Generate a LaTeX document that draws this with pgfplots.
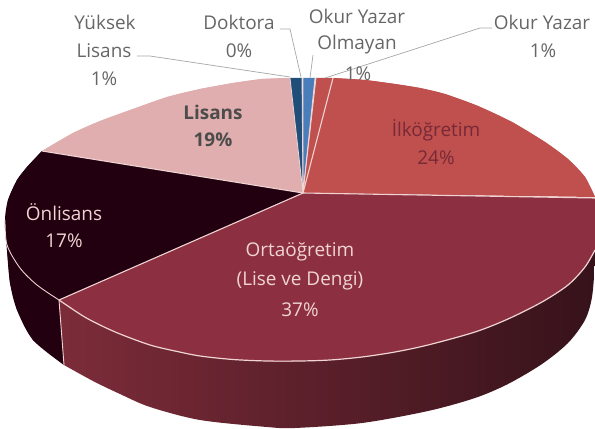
\documentclass[border=0pt]{standalone}
\usepackage{pgfplots}
\pgfplotsset{compat=1.18}
\usepackage{fontspec}
\setmainfont{Open Sans}
\definecolor{lis}{HTML}{E0AEAE}
\definecolor{onl}{HTML}{22000F}
\definecolor{ort}{HTML}{8C3041}
\definecolor{ilk}{HTML}{C0504D}
\definecolor{bl1}{HTML}{1F4E79}
\definecolor{bl2}{HTML}{4A7EBB}
\definecolor{edge}{HTML}{F0D4D4}
\definecolor{txt}{HTML}{666666}
\definecolor{lead}{HTML}{A6A6A6}
\definecolor{sideL}{HTML}{7C2C39}
\definecolor{sideR}{HTML}{36121A}
\tikzset{lab/.style={font=\fontsize{19}{22}\selectfont,text=txt,anchor=center,inner sep=0pt}}
\begin{document}
\begin{tikzpicture}
\begin{axis}[scale only axis,width=595bp,height=429bp,xmin=0,xmax=595,ymin=0,ymax=429,y dir=reverse,hide axis,clip=true]
% side walls
\addplot[fill=onl,draw=none] coordinates {(5,220)(7,245)(20,268)(37,285)(59,300)(64,365)(33,340)(17,310)(10,283)(7,250)} -- cycle;
\addplot[smooth,fill=onl,draw=none] coordinates {(64,365)(33,340)(17,310)(10,283)(7,250)(5,220)} -- cycle;
\addplot[smooth,draw=none,left color=sideL,right color=sideR] coordinates {(59,300)(83,316)(100,325)(120,334)(150,345)(200,356)(267,361)(300,361)(362,357)(428,345)(475,332)(508,319)(542,302)(568,285)(585,267)(595,250)(595,250)(595,262)(592,297)(585,320)(568,343)(542,364)(508,384)(475,398)(428,411)(362,423)(295,428)(267,427)(200,420)(150,407)(120,394)(93,381)(64,365)} -- cycle;
% top wedges: straight fan, then the sliver under the curved rim
\addplot[fill=lis,draw=none] coordinates {(303,193)(290,78)(262,79)(233,83)(200,89)(167,97)(133,109)(100,121)(73,133)(42,151)} -- cycle;
\addplot[smooth,fill=lis,draw=none] coordinates {(290,78)(262,79)(233,83)(200,89)(167,97)(133,109)(100,121)(73,133)(42,151)} -- cycle;
\addplot[fill=onl,draw=none] coordinates {(303,193)(42,151)(27,167)(17,180)(8,200)(5,220)(7,245)(20,268)(37,285)(59,300)} -- cycle;
\addplot[smooth,fill=onl,draw=none] coordinates {(42,151)(27,167)(17,180)(8,200)(5,220)(7,245)(20,268)(37,285)(59,300)} -- cycle;
\addplot[fill=ilk,draw=none] coordinates {(303,193)(316,78)(333,78)(365,80)(395,84)(420,88)(445,94)(478,106)(512,122)(545,142)(568,159)(585,177)(595,197)} -- cycle;
\addplot[smooth,fill=ilk,draw=none] coordinates {(333,78)(365,80)(395,84)(420,88)(445,94)(478,106)(512,122)(545,142)(568,159)(585,177)(595,197)} -- cycle;
\addplot[fill=bl2,draw=none] coordinates {(303,193)(303,78)(315,78)} -- cycle;
\addplot[fill=bl1,draw=none] coordinates {(303,193)(290,78)(302,78)} -- cycle;
\addplot[fill=ort,draw=none] coordinates {(303,193)(59,300)(83,316)(100,325)(120,334)(150,345)(175,351)(200,356)(233,359.5)(267,361)(300,361)(330,360)(362,357)(395,352)(428,345)(475,332)(508,319)(542,302)(568,285)(585,267)(595,250)(595,198)} -- cycle;
\addplot[smooth,fill=ort,draw=none] coordinates {(59,300)(83,316)(100,325)(120,334)(150,345)(175,351)(200,356)(233,359.5)(267,361)(300,361)(330,360)(362,357)(395,352)(428,345)(475,332)(508,319)(542,302)(568,285)(585,267)(595,250)} -- cycle;
% rims and spokes
\addplot[smooth,draw=edge,line width=1.2pt] coordinates {(59,300)(83,316)(100,325)(120,334)(150,345)(175,351)(200,356)(233,359.5)(267,361)(300,361)(330,360)(362,357)(395,352)(428,345)(475,332)(508,319)(542,302)(568,285)(585,267)(595,250)};
\addplot[smooth,draw=edge,line width=.9pt] coordinates {(5,220)(7,245)(20,268)(37,285)(59,300)};
\addplot[draw=edge,line width=1.1pt] coordinates {(42,151)(303,193)(595,198)};
\addplot[draw=edge,line width=1.1pt] coordinates {(59,300)(303,193)(333,78)};
\addplot[draw=edge,line width=.8pt] coordinates {(290,78)(303,193)(302,78)};
\addplot[draw=edge,line width=.8pt] coordinates {(303,78)(303,193)(315,78)};
\addplot[draw=edge,line width=.8pt] coordinates {(316,78)(303,193)};
\addplot[draw=edge,line width=.9pt] coordinates {(59,300)(64,365)};
% leaders
\addplot[draw=lead,line width=.7pt] coordinates {(137,56)(150,56)(290,77)};
\addplot[draw=lead,line width=.7pt] coordinates {(280,29)(290,29)(301,77)};
\addplot[draw=lead,line width=.7pt] coordinates {(313,55)(310,78)};
\addplot[draw=lead,line width=.7pt] coordinates {(492,28)(480,28)(325,78)};
% labels
\node[lab] at (axis cs:105,22) {Yüksek};
\node[lab] at (axis cs:104,51) {Lisans};
\node[lab] at (axis cs:104,79) {1\%};
\node[lab] at (axis cs:239,22) {Doktora};
\node[lab] at (axis cs:239,51) {0\%};
\node[lab] at (axis cs:357,16) {Okur Yazar};
\node[lab] at (axis cs:357,45) {Olmayan};
\node[lab] at (axis cs:358,74) {1\%};
\node[lab] at (axis cs:542,22) {Okur Yazar};
\node[lab] at (axis cs:543,51) {1\%};
\node[lab,text=black!70,font=\fontsize{19}{22}\selectfont\bfseries] at (axis cs:213,112) {Lisans};
\node[lab,text=black!70,font=\fontsize{19}{22}\selectfont\bfseries] at (axis cs:213,140) {19\%};
\node[lab,text=ort!85!black] at (axis cs:436,130) {İlköğretim};
\node[lab,text=ort!85!black] at (axis cs:436,158) {24\%};
\node[lab,text=edge] at (axis cs:64,212) {Önlisans};
\node[lab,text=edge] at (axis cs:64,241) {17\%};
\node[lab,text=edge] at (axis cs:300,252) {Ortaöğretim};
\node[lab,text=edge] at (axis cs:300,281) {(Lise ve Dengi)};
\node[lab,text=edge] at (axis cs:300,310) {37\%};
\end{axis}
\pgfresetboundingbox
\path[use as bounding box] (0,0) rectangle (595bp,429bp);
\end{tikzpicture}
\end{document}
